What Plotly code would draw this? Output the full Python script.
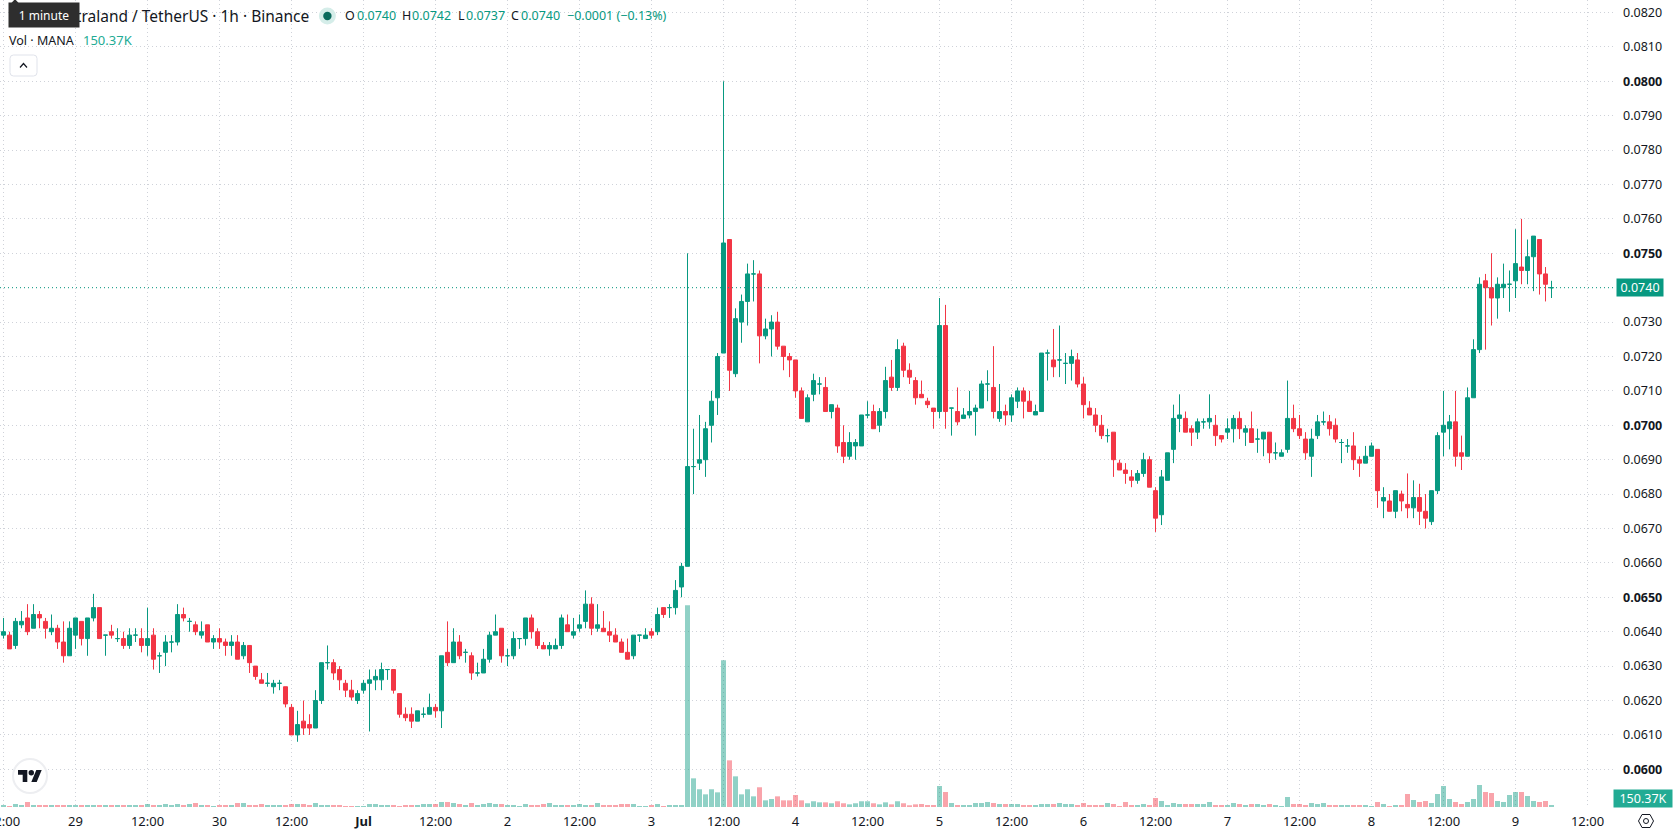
import pandas as pd
import plotly.graph_objects as go

# Hourly MANA/USDT candles; prices are stored in ticks of 0.0001.
open_ticks = [
    639, 639, 636, 642, 644, 641, 645, 643, 640, 641,
    637, 633, 639, 643, 638, 644, 647, 639, 640, 638,
    638, 636, 639, 638, 636, 639, 633, 634, 637, 637,
    645, 643, 642, 639, 642, 637, 638, 637, 636, 637,
    633, 636, 630, 626, 625, 624, 625, 624, 618, 610,
    614, 613, 612, 620, 631, 631, 629, 625, 623, 620,
    623, 625, 626, 626, 629, 629, 622, 616, 616, 614,
    616, 616, 618, 617, 634, 631, 637, 634, 633, 628,
    628, 632, 639, 641, 633, 633, 638, 638, 644, 640,
    636, 635, 635, 636, 642, 639, 641, 643, 648, 641,
    641, 640, 639, 637, 634, 633, 639, 638, 640, 640,
    647, 647, 647, 653, 659, 688, 689, 690, 700, 708,
    721, 754, 715, 730, 736, 744, 744, 726, 728, 730,
    723, 720, 719, 710, 701, 709, 712, 711, 704, 705,
    695, 691, 694, 694, 703, 704, 700, 704, 714, 711,
    723, 716, 713, 709, 707, 705, 704, 729, 705, 704,
    702, 703, 704, 705, 712, 711, 702, 704, 703, 707,
    710, 707, 703, 704, 721, 719, 719, 718, 718, 719,
    712, 705, 703, 700, 697, 698, 689, 687, 685, 684,
    686, 690, 681, 674, 684, 693, 702, 702, 699, 698,
    701, 701, 700, 697, 698, 699, 702, 698, 699, 696,
    696, 698, 692, 691, 693, 702, 699, 696, 691, 697,
    701, 701, 700, 695, 694, 694, 690, 689, 691, 693,
    678, 678, 675, 680, 677, 676, 679, 675, 672, 681,
    698, 699, 701, 692, 691, 708, 722, 742, 740, 737,
    740, 741, 742, 746, 745, 749, 754, 744, 740,
]
close_ticks = [
    640, 635, 643, 643, 640, 645, 644, 641, 641, 637,
    633, 641, 644, 638, 644, 647, 638, 639, 639, 638,
    636, 639, 639, 636, 638, 632, 633, 637, 637, 645,
    644, 643, 640, 640, 637, 638, 637, 636, 637, 632,
    636, 631, 627, 625, 625, 625, 625, 619, 610, 613,
    612, 612, 620, 631, 631, 628, 626, 623, 621, 622,
    625, 626, 627, 629, 629, 623, 616, 615, 614, 617,
    616, 618, 617, 633, 631, 637, 633, 634, 628, 628,
    632, 639, 640, 633, 633, 638, 638, 644, 640, 636,
    635, 636, 636, 644, 640, 640, 642, 648, 641, 642,
    640, 639, 637, 634, 632, 639, 639, 639, 639, 645,
    645, 647, 652, 659, 688, 688, 690, 699, 707, 720,
    753, 716, 731, 736, 744, 744, 726, 728, 730, 723,
    720, 719, 710, 702, 708, 713, 712, 704, 706, 694,
    691, 695, 695, 703, 703, 699, 704, 713, 711, 722,
    716, 714, 708, 708, 706, 704, 729, 704, 705, 701,
    703, 704, 705, 712, 712, 704, 704, 703, 708, 710,
    707, 704, 704, 721, 721, 717, 719, 718, 720, 712,
    706, 703, 700, 697, 697, 690, 687, 686, 684, 686,
    690, 682, 673, 685, 692, 702, 703, 698, 698, 701,
    701, 702, 697, 696, 699, 702, 699, 699, 695, 696,
    698, 692, 692, 692, 702, 699, 697, 692, 696, 701,
    701, 699, 696, 695, 694, 690, 689, 691, 694, 681,
    679, 675, 681, 678, 676, 679, 675, 673, 681, 697,
    700, 701, 691, 691, 708, 722, 741, 740, 737, 741,
    741, 741, 747, 745, 749, 755, 744, 741, 740,
]
high_ticks = [
    644, 640, 644, 646, 648, 648, 646, 644, 645, 642,
    643, 643, 644, 643, 644, 651, 647, 639, 642, 641,
    640, 641, 641, 641, 647, 641, 634, 639, 639, 648,
    647, 644, 643, 643, 642, 639, 641, 638, 639, 639,
    637, 636, 630, 628, 628, 626, 626, 624, 619, 617,
    620, 616, 623, 631, 636, 632, 630, 626, 626, 623,
    626, 629, 629, 631, 629, 629, 622, 618, 618, 617,
    618, 622, 619, 633, 643, 641, 639, 635, 634, 631,
    635, 640, 645, 641, 635, 640, 638, 644, 645, 641,
    637, 637, 638, 645, 645, 644, 645, 652, 650, 648,
    646, 643, 641, 638, 638, 639, 639, 641, 641, 647,
    647, 648, 655, 660, 750, 699, 703, 701, 710, 721,
    800, 754, 734, 738, 747, 748, 745, 731, 732, 733,
    723, 721, 719, 711, 709, 715, 714, 714, 706, 706,
    700, 698, 696, 703, 707, 706, 705, 717, 719, 725,
    724, 718, 714, 713, 708, 705, 737, 735, 705, 711,
    705, 710, 706, 713, 716, 723, 712, 706, 709, 711,
    711, 710, 706, 721, 722, 728, 729, 721, 722, 721,
    714, 707, 705, 703, 699, 698, 690, 689, 687, 687,
    692, 691, 682, 687, 692, 706, 709, 704, 700, 702,
    702, 709, 703, 697, 702, 703, 704, 700, 704, 699,
    698, 698, 695, 693, 713, 706, 703, 698, 699, 703,
    704, 703, 702, 696, 696, 698, 691, 694, 695, 693,
    682, 680, 681, 681, 686, 684, 683, 680, 681, 698,
    710, 703, 710, 697, 711, 725, 743, 744, 750, 743,
    747, 745, 757, 760, 754, 755, 754, 746, 742,
]
low_ticks = [
    638, 635, 635, 641, 639, 641, 641, 638, 639, 635,
    631, 633, 635, 636, 633, 643, 638, 633, 638, 637,
    635, 635, 637, 634, 633, 629, 628, 630, 634, 636,
    643, 640, 639, 638, 637, 635, 635, 633, 633, 632,
    632, 628, 626, 625, 624, 622, 623, 618, 610, 608,
    610, 610, 612, 619, 629, 626, 623, 621, 620, 619,
    622, 611, 623, 623, 626, 622, 615, 614, 612, 614,
    615, 616, 615, 612, 630, 631, 632, 631, 626, 627,
    628, 631, 639, 631, 630, 632, 635, 636, 638, 635,
    635, 633, 635, 635, 640, 638, 640, 641, 639, 640,
    640, 637, 637, 634, 632, 632, 637, 638, 638, 639,
    644, 644, 645, 650, 659, 680, 687, 685, 695, 703,
    721, 710, 714, 724, 729, 736, 718, 725, 720, 722,
    716, 714, 708, 702, 701, 707, 709, 704, 702, 692,
    689, 690, 690, 694, 702, 699, 698, 702, 710, 710,
    714, 712, 706, 708, 705, 699, 702, 699, 697, 700,
    702, 702, 697, 705, 707, 702, 701, 700, 701, 705,
    702, 704, 703, 704, 713, 714, 714, 712, 713, 711,
    702, 703, 698, 696, 695, 685, 687, 683, 682, 683,
    685, 682, 669, 671, 684, 689, 698, 698, 694, 696,
    699, 699, 694, 695, 696, 695, 696, 694, 695, 692,
    691, 689, 690, 691, 692, 698, 696, 690, 685, 696,
    700, 697, 695, 689, 692, 687, 685, 689, 691, 676,
    673, 675, 673, 675, 673, 673, 671, 670, 671, 680,
    691, 693, 688, 687, 692, 708, 721, 722, 729, 731,
    737, 733, 737, 741, 741, 739, 738, 736, 737,
]
# Traded volume per hour, in thousands of MANA.
volume_k = [
    150, 75, 225, 150, 375, 150, 150, 150, 150, 150,
    150, 150, 150, 150, 150, 150, 150, 150, 150, 150,
    150, 150, 150, 150, 225, 150, 150, 225, 150, 225,
    150, 225, 300, 150, 150, 75, 150, 150, 150, 300,
    300, 150, 150, 225, 150, 150, 150, 150, 225, 225,
    225, 150, 300, 150, 150, 150, 150, 75, 75, 75,
    75, 225, 225, 150, 150, 150, 75, 150, 150, 150,
    225, 225, 225, 375, 375, 300, 225, 150, 300, 150,
    225, 300, 225, 225, 150, 150, 75, 225, 150, 150,
    225, 300, 150, 150, 150, 150, 225, 150, 150, 300,
    150, 150, 150, 225, 225, 225, 75, 75, 150, 225,
    75, 150, 150, 150, 15125, 2150, 1330, 950, 1330, 1100,
    11000, 3500, 2300, 950, 1330, 800, 1480, 500, 600, 800,
    500, 500, 900, 500, 280, 430, 350, 350, 280, 430,
    280, 200, 280, 430, 430, 280, 200, 350, 200, 430,
    280, 130, 200, 225, 150, 150, 1575, 1125, 300, 150,
    150, 150, 300, 300, 375, 300, 225, 225, 225, 225,
    150, 150, 150, 225, 225, 225, 300, 225, 225, 150,
    300, 150, 150, 150, 300, 225, 75, 375, 150, 150,
    225, 150, 675, 450, 150, 300, 225, 225, 225, 225,
    225, 375, 150, 150, 150, 300, 225, 150, 225, 225,
    150, 225, 150, 75, 750, 225, 225, 150, 300, 225,
    300, 150, 150, 150, 150, 150, 150, 150, 75, 375,
    225, 75, 150, 150, 975, 525, 375, 450, 300, 975,
    1575, 600, 375, 225, 375, 600, 1650, 1125, 1050, 450,
    375, 900, 1125, 1125, 825, 450, 375, 450, 150.37,
]

start_time = "2024-06-28 12:00"
time_tick_labels = [
    "12:00", "29", "12:00", "30", "12:00", "<b>Jul</b>", "12:00", "2",
    "12:00", "3", "12:00", "4", "12:00", "5", "12:00", "6",
    "12:00", "7", "12:00", "8", "12:00", "9", "12:00",
]
price_tick_steps = list(range(600, 821, 10))

UP, DOWN = "#089981", "#F23645"
UP_VOL, DOWN_VOL = "rgba(8,153,129,0.45)", "rgba(242,54,69,0.45)"
INK, GRID = "#131722", "#cfd2d9"
DOTTED = "1px,3px"
FONT = "Noto Sans"

WIDTH, HEIGHT = 1678, 835
PANE_W, PANE_H = 1613, 807  # price pane in pixels
PX_PER_HOUR = 6.0
FIRST_BAR_PX = 3.5
PRICE_AT_TOP, PRICE_AT_BOTTOM = 0.082363, 0.058904
VOLUME_PER_PX = 75_000


def fx(px):
    return px / PANE_W


def fy(py):
    return 1 - py / PANE_H


times = pd.date_range(start_time, periods=len(open_ticks), freq="h")
t0 = times[0]
hour = pd.Timedelta(hours=1)
x_range = [t0 - hour * (FIRST_BAR_PX / PX_PER_HOUR),
           t0 + hour * ((PANE_W - FIRST_BAR_PX) / PX_PER_HOUR)]
time_ticks = [t0 + hour * 12 * k for k in range(len(time_tick_labels))]

opens = [v / 1e4 for v in open_ticks]
highs = [v / 1e4 for v in high_ticks]
lows = [v / 1e4 for v in low_ticks]
closes = [v / 1e4 for v in close_ticks]
rising = [c >= o for o, c in zip(open_ticks, close_ticks)]


def candle_trace(keep, color):
    idx = [i for i, flag in enumerate(rising) if flag == keep]
    side = dict(line=dict(color=color, width=1), fillcolor=color)
    return go.Candlestick(
        x=[times[i] for i in idx],
        open=[opens[i] for i in idx],
        high=[highs[i] for i in idx],
        low=[lows[i] for i in idx],
        close=[closes[i] for i in idx],
        increasing=side, decreasing=side,
        whiskerwidth=0, hoverinfo="skip", showlegend=False,
        xaxis="x", yaxis="y",
    )


fig = go.Figure()
fig.add_trace(candle_trace(True, UP))
fig.add_trace(candle_trace(False, DOWN))
fig.add_trace(go.Bar(
    x=times,
    y=[v * 1000 for v in volume_k],
    width=3_600_000 * 5 / 6,
    marker=dict(color=[UP_VOL if r else DOWN_VOL for r in rising], line_width=0),
    hoverinfo="skip", showlegend=False, xaxis="x", yaxis="y2",
))
# Last-price line across the whole pane
fig.add_trace(go.Scatter(
    x=x_range, y=[closes[-1], closes[-1]], mode="lines",
    line=dict(color=UP, width=1, dash=DOTTED),
    hoverinfo="skip", showlegend=False, xaxis="x", yaxis="y",
))


def text(px, py, label, color=INK, size=12.5, anchor="left"):
    # Annotations carry a small built-in padding, taken out of the anchor here.
    nudge = -2 if anchor == "left" else 2
    return dict(xref="paper", yref="paper", x=fx(px + nudge), y=fy(py), text=label,
                showarrow=False, xanchor=anchor, yanchor="middle",
                font=dict(family=FONT, size=size, color=color))


def tag(cx, cy, w, h, label, bg):
    return dict(xref="paper", yref="paper", x=fx(cx), y=fy(cy), text=label,
                showarrow=False, xanchor="center", yanchor="middle",
                width=w, height=h, bgcolor=bg, borderpad=0,
                font=dict(family=FONT, size=12.5, color="white"))


def icon(cx, cy, path, **style):
    return dict(type="path", xref="paper", yref="paper", layer="above",
                xsizemode="pixel", ysizemode="pixel",
                xanchor=fx(cx), yanchor=fy(cy), path=path, **style)


def dot(cx, cy, r, **style):
    return dict(type="circle", xref="paper", yref="paper", layer="above",
                xsizemode="pixel", ysizemode="pixel",
                xanchor=fx(cx), yanchor=fy(cy),
                x0=-r, x1=r, y0=-r, y1=r, **style)


annotations = [
    text(309, 16, "Decentraland / TetherUS · 1h · Binance", size=15.5, anchor="right"),
    text(345, 16, "O"),
    text(356.5, 16, "0.0740", UP),
    text(402, 16, "H"),
    text(412, 16, "0.0742", UP),
    text(458, 16, "L"),
    text(466, 16, "0.0737", UP),
    text(511, 16, "C"),
    text(521, 16, "0.0740", UP),
    text(567, 16, "−0.0001 (−0.13%)", UP),
    text(9, 40.5, "Vol · MANA"),
    text(83, 40.5, "150.37K", "#22AB94", 13),
    dict(xref="paper", yref="paper", x=fx(44), y=fy(15), text="1 minute",
         showarrow=False, xanchor="center", yanchor="middle", width=70, height=24,
         bgcolor="#2E2E2E", borderpad=0,
         font=dict(family=FONT, size=12, color="white")),
    tag(1640, 287.5, 46, 17, "0.0740", UP),
    tag(1643, 798.5, 58, 17, "150.37K", "#22AB94"),
]

tv_logo = ("M-2.7,-6 L-7.3,-6 L-7.3,1.3 L-12,1.3 L-12,6 L-2.7,6 Z "
           "M6.7,-6 L1.3,-6 L6.3,6 L11.7,6 Z")

shapes = [
    # Pointer of the tooltip
    icon(15, 1.5, "M-4,-2 L0,2.5 L4,-2 Z", fillcolor="#2E2E2E", line_width=0),
    # Legend status dot
    dot(327.4, 16, 8.5, fillcolor="#D5EDE9", line_width=0),
    dot(327.4, 16, 4.2, fillcolor="#0B6B5D", line_width=0),
    # Collapse button
    icon(23.5, 65.5,
         "M-10,10.5 L10,10.5 Q13.5,10.5 13.5,7 L13.5,-7 Q13.5,-10.5 10,-10.5 "
         "L-10,-10.5 Q-13.5,-10.5 -13.5,-7 L-13.5,7 Q-13.5,10.5 -10,10.5 Z",
         fillcolor="white", line=dict(color="#E0E3EB", width=1)),
    icon(23.5, 65.5, "M-3.5,-2 L0,2 L3.5,-2", line=dict(color=INK, width=1.2)),
    # Watermark badge
    dot(30, 776, 17, fillcolor="white", line=dict(color="#EDEEF1", width=2)),
    icon(30, 776, tv_logo, fillcolor=INK, line_width=0),
    dot(31.3, 772.7, 2.7, fillcolor=INK, line_width=0),
    # Settings button under the price scale
    icon(1646, 821, "M-7.5,0 L-4,6.5 L4,6.5 L7.5,0 L4,-6.5 L-4,-6.5 Z",
         line=dict(color=INK, width=1)),
    dot(1646, 821, 2.5, line=dict(color=INK, width=1)),
]

fig.update_layout(
    width=WIDTH, height=HEIGHT,
    margin=dict(l=0, r=WIDTH - PANE_W, t=0, b=HEIGHT - PANE_H, pad=0, autoexpand=False),
    paper_bgcolor="white", plot_bgcolor="white",
    boxgap=0.33, boxgroupgap=0, barmode="overlay", dragmode=False, hovermode=False,
    font=dict(family=FONT, color=INK, size=12),
    annotations=annotations, shapes=shapes,
    xaxis=dict(
        type="date", range=x_range, rangeslider=dict(visible=False),
        tickmode="array", tickvals=time_ticks, ticktext=time_tick_labels,
        tickangle=0, tickfont=dict(family=FONT, size=13, color=INK),
        showgrid=True, gridcolor=GRID, griddash=DOTTED, gridwidth=1,
        showline=False, zeroline=False, ticks="", ticklabelstandoff=5,
        ticklabeloverflow="allow",
    ),
    yaxis=dict(
        side="right", range=[PRICE_AT_BOTTOM, PRICE_AT_TOP],
        tickmode="array", tickvals=[v / 1e4 for v in price_tick_steps],
        ticktext=[f"<b>{v/1e4:.4f}</b>" if v % 50 == 0 else f"{v/1e4:.4f}"
                  for v in price_tick_steps],
        tickfont=dict(family=FONT, size=12.5, color=INK),
        showgrid=True, gridcolor=GRID, griddash=DOTTED, gridwidth=1,
        showline=False, zeroline=False, ticks="", ticklabelstandoff=9,
    ),
    yaxis2=dict(
        overlaying="y", side="left", visible=False,
        range=[0, PANE_H * VOLUME_PER_PX], fixedrange=True,
    ),
)

fig.write_html("out.html", config=dict(displayModeBar=False))
